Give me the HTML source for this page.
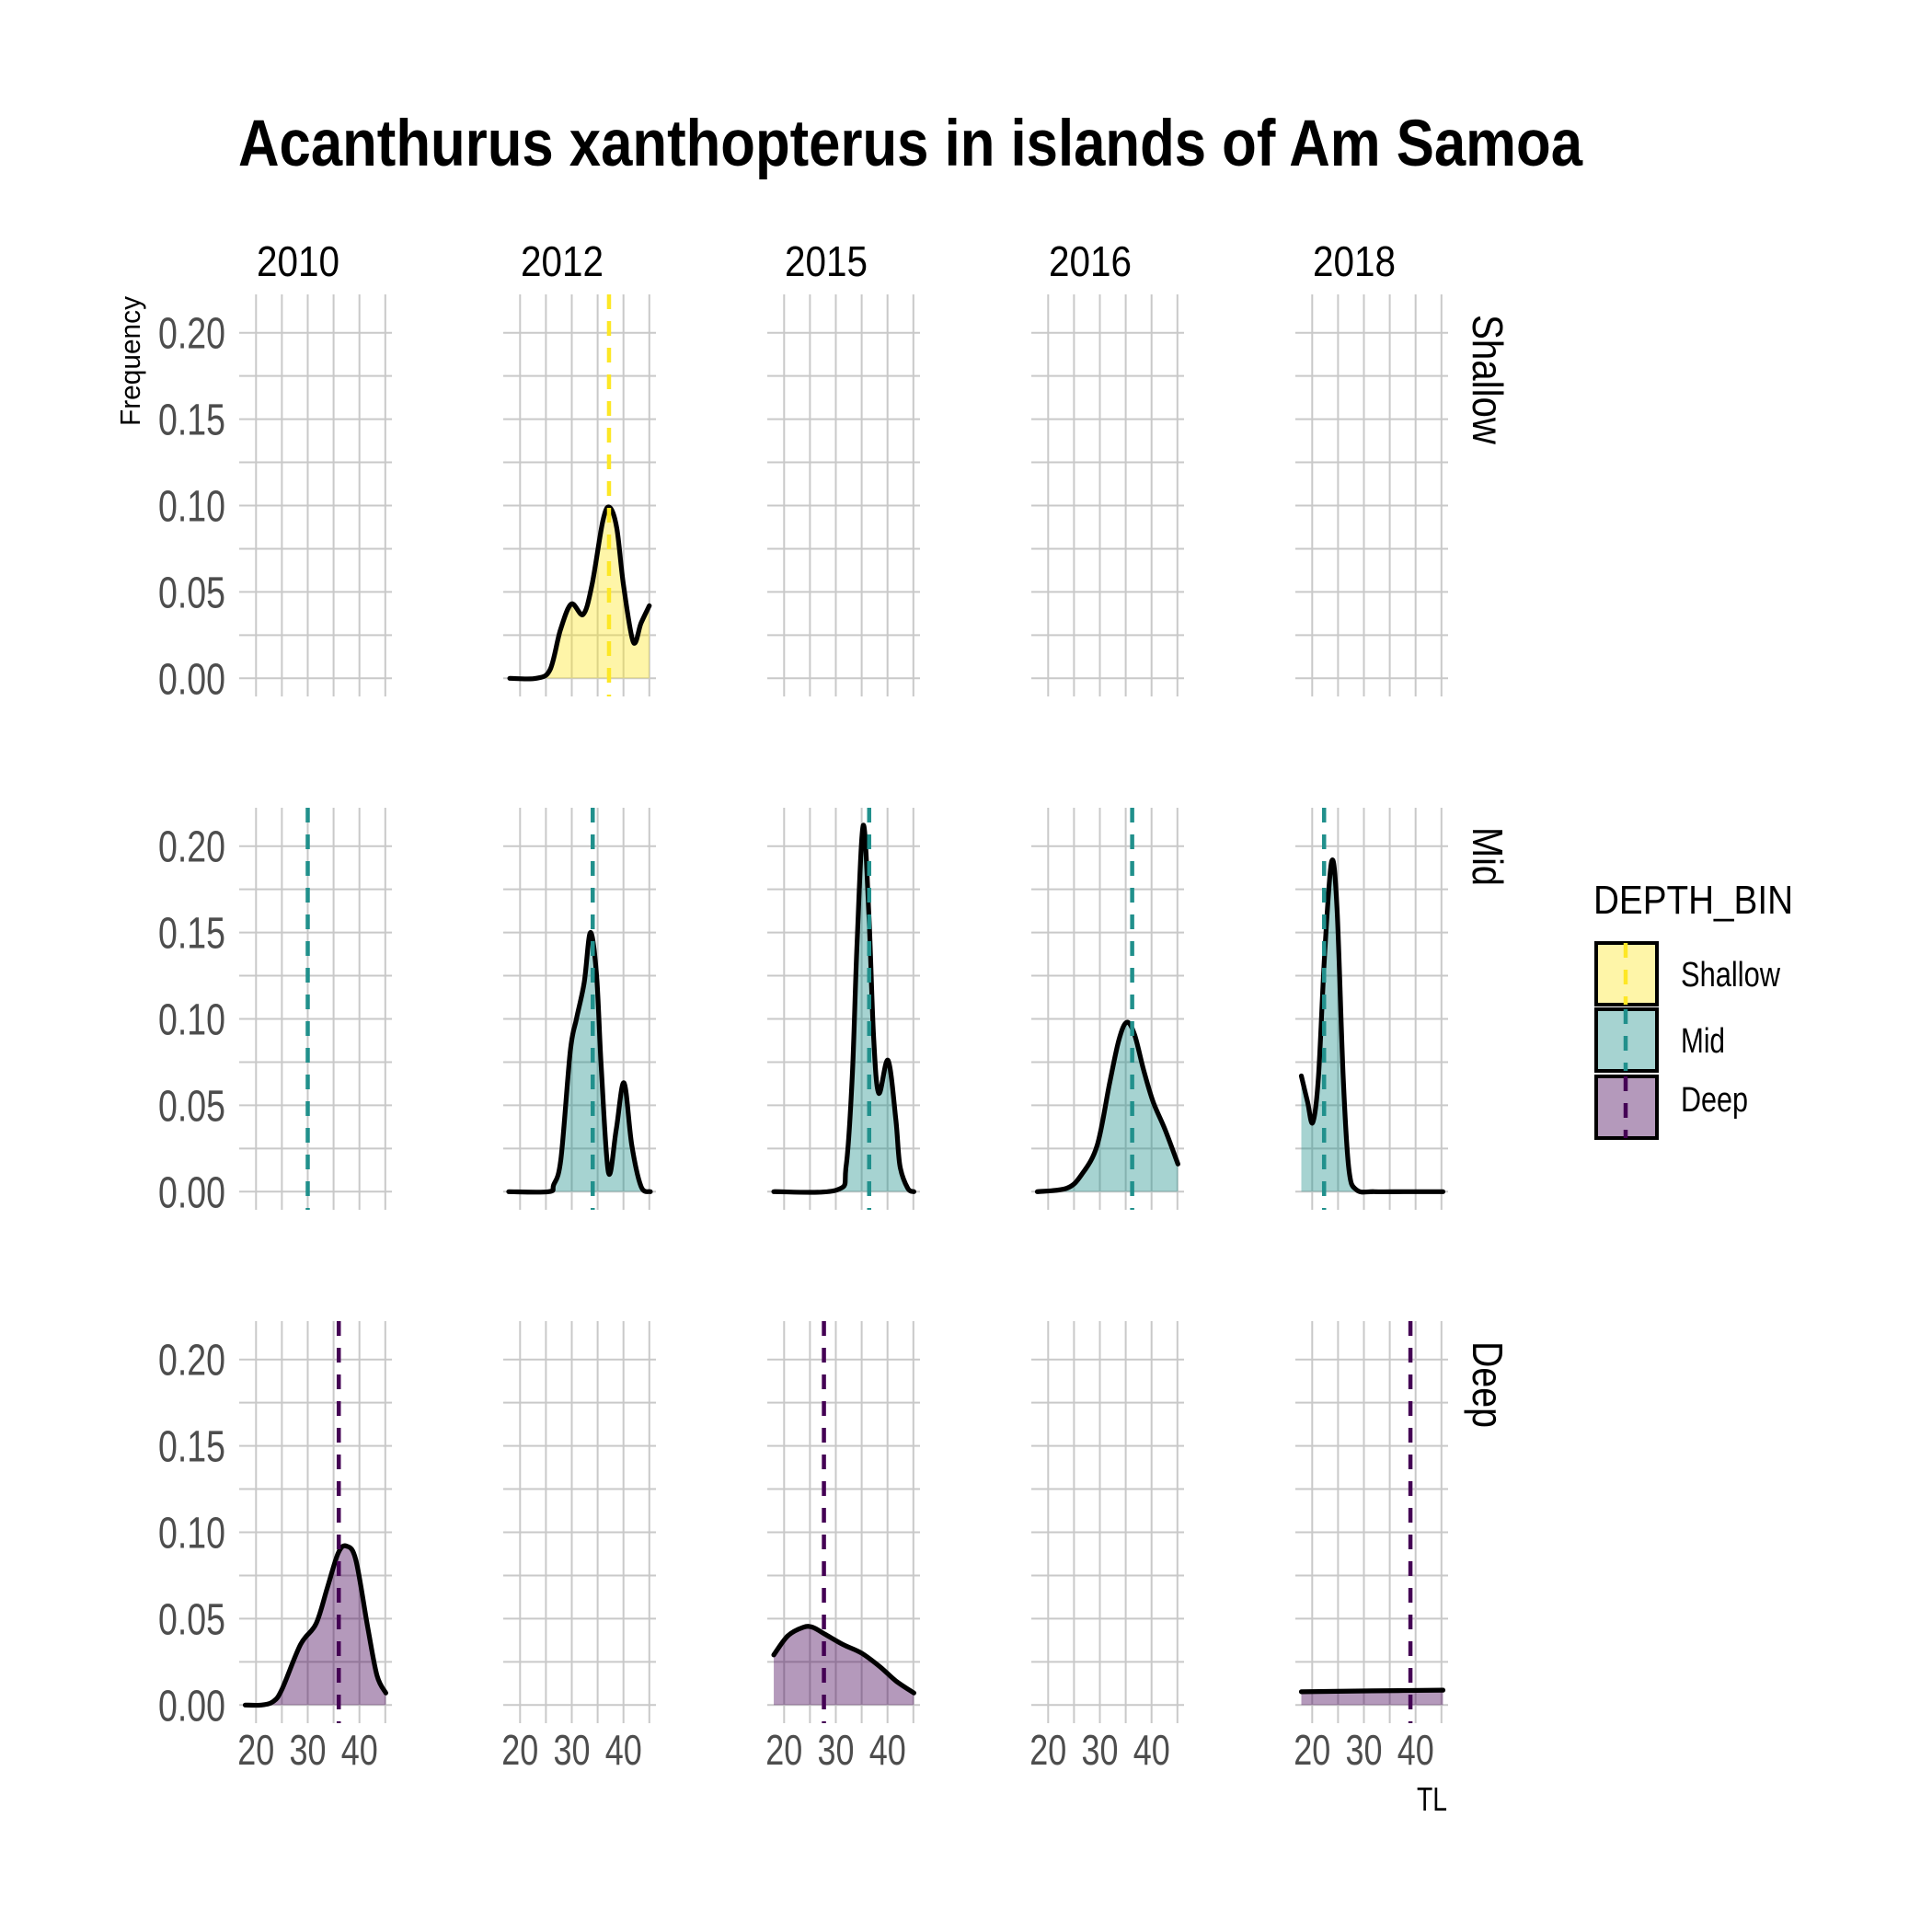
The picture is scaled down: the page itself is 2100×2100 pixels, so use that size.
<!DOCTYPE html>
<html><head><meta charset="utf-8"><style>
html,body{margin:0;padding:0;background:#fff;}
svg{display:block;font-family:"Liberation Sans",Arial,sans-serif;}
</style></head><body>
<svg id="chart" width="2100" height="2100" viewBox="0 0 2100 2100" xmlns="http://www.w3.org/2000/svg">
<rect width="2100" height="2100" fill="#fff"/>
<text x="259" y="180" font-size="71" font-weight="bold" textLength="1461" lengthAdjust="spacingAndGlyphs">Acanthurus xanthopterus in islands of Am Samoa</text>
<g id="panels"></g>
<text transform="translate(152,322) rotate(-90)" text-anchor="end" font-size="31" textLength="141" lengthAdjust="spacingAndGlyphs">Frequency</text>
<text x="1540" y="1968" font-size="36" textLength="33" lengthAdjust="spacingAndGlyphs">TL</text>
<g>
<text x="1732" y="993" font-size="44" textLength="217" lengthAdjust="spacingAndGlyphs">DEPTH_BIN</text>
<g>
<rect x="1735" y="1025" width="66" height="67" fill="#FDE725" fill-opacity="0.4" stroke="#000" stroke-width="4"/>
<line x1="1767" y1="1025" x2="1767" y2="1092" stroke="#FDE725" stroke-width="4.5" stroke-dasharray="16 13"/>
<text x="1827" y="1072" font-size="38" textLength="108" lengthAdjust="spacingAndGlyphs">Shallow</text></g>
<g>
<rect x="1735" y="1097" width="66" height="67" fill="#21908C" fill-opacity="0.4" stroke="#000" stroke-width="4"/>
<line x1="1767" y1="1097" x2="1767" y2="1164" stroke="#21908C" stroke-width="4.5" stroke-dasharray="16 13"/>
<text x="1827" y="1144" font-size="38" textLength="48" lengthAdjust="spacingAndGlyphs">Mid</text></g>
<g>
<rect x="1735" y="1170" width="66" height="67" fill="#440154" fill-opacity="0.4" stroke="#000" stroke-width="4"/>
<line x1="1767" y1="1170" x2="1767" y2="1237" stroke="#440154" stroke-width="4.5" stroke-dasharray="16 13"/>
<text x="1827" y="1208" font-size="38" textLength="73" lengthAdjust="spacingAndGlyphs">Deep</text></g>
</g>
</svg>
<script>
const years = ["2010","2012","2015","2016","2018"];
const depths = ["Shallow","Mid","Deep"];
const depthColors = ["#FDE725","#21908C","#440154"];
const yTicks = [0,0.05,0.10,0.15,0.20];
const yTickLabels = ["0.00","0.05","0.10","0.15","0.20"];
const yMinor = [0.025,0.075,0.125,0.175];
const xTicks = [20,30,40];
const xMinor = [25,35,45];

const tl_2012_shallow = [18,23.1,25.8,27.8,29.9,32.2,33.9,36.0,37.3,38.7,40.0,41.9,43.4,45.0];
const dens_2012_shallow = [0,0,0.005,0.028,0.043,0.037,0.054,0.091,0.099,0.087,0.054,0.021,0.032,0.042];
const tl_2012_mid = [17.8,25.5,26.5,27.9,29.7,30.9,32.4,33.6,34.8,35.7,37.1,38.6,40.1,41.6,43.4,45.2];
const dens_2012_mid = [0,0,0.004,0.019,0.081,0.100,0.121,0.150,0.125,0.072,0.011,0.036,0.063,0.027,0.003,0];
const tl_2015_mid = [18,30.2,32.0,33.2,34.1,35.3,36.4,37.3,38.3,40.1,41.6,42.4,43.9,45.1];
const dens_2015_mid = [0,0.001,0.015,0.068,0.143,0.212,0.160,0.090,0.057,0.076,0.042,0.015,0.002,0];
const tl_2016_mid = [17.9,23.6,26.5,29.5,31.9,33.7,35.2,36.7,38.5,40.3,42.6,45.1];
const dens_2016_mid = [0,0.002,0.010,0.027,0.063,0.088,0.098,0.091,0.070,0.052,0.036,0.016];
const tl_2018_mid = [17.9,19.1,20.1,21.2,22.4,23.75,24.8,26.0,27.1,28.6,32,38,45.3];
const dens_2018_mid = [0.067,0.052,0.040,0.066,0.137,0.191,0.164,0.066,0.013,0.001,0,0,0];
const tl_2010_deep = [17.9,21,23.3,25.0,28.6,31.6,33.8,35.9,37.5,39.3,41.6,43.4,45.1];
const dens_2010_deep = [0,0,0.002,0.009,0.035,0.047,0.068,0.088,0.092,0.084,0.045,0.017,0.007];
const tl_2015_deep = [18.0,20.7,23.7,25.5,27.9,31.4,35.0,38.6,41.6,45.1];
const dens_2015_deep = [0.029,0.040,0.045,0.045,0.041,0.035,0.030,0.022,0.014,0.007];
const tl_2018_deep = [17.9,31.6,45.3];
const dens_2018_deep = [0.0077,0.0082,0.0086];

const curves = [
  [0,1,tl_2012_shallow,dens_2012_shallow],
  [1,1,tl_2012_mid,dens_2012_mid],
  [1,2,tl_2015_mid,dens_2015_mid],
  [1,3,tl_2016_mid,dens_2016_mid],
  [1,4,tl_2018_mid,dens_2018_mid],
  [2,0,tl_2010_deep,dens_2010_deep],
  [2,2,tl_2015_deep,dens_2015_deep],
  [2,4,tl_2018_deep,dens_2018_deep]
];
const meanRows = [0,1,1,1,1,1,2,2,2];
const meanCols = [1,0,1,2,3,4,0,2,4];
const meanValues = [37.2,30.0,34.05,36.45,36.25,22.3,36.0,27.7,39.0];

const NS="http://www.w3.org/2000/svg";
function xs(c,v){return 278.3+c*287+(v-20)*5.62;}
function ys(r,v){return 737.3+r*558-v*1878;}
const PL=260,PR=426,PT=320,PB=757;
function mk(tag,attrs,parent){const e=document.createElementNS(NS,tag);for(const k in attrs)e.setAttribute(k,attrs[k]);parent.appendChild(e);return e;}
const root=document.getElementById('panels');

for(let r=0;r<3;r++){for(let c=0;c<5;c++){
  const g=mk('g',{},root);
  
  
  const x0=PL+c*287,x1=PR+c*287,y0=PT+r*558,y1=PB+r*558;
  yTicks.concat(yMinor).forEach(v=>{
    const l=mk('line',{x1:x0,x2:x1,y1:ys(r,v),y2:ys(r,v),stroke:'#c9c9c9','stroke-width':2},g);
    
    
  });
  xTicks.concat(xMinor).forEach(v=>{
    const l=mk('line',{x1:xs(c,v),x2:xs(c,v),y1:y0,y2:y1,stroke:'#c9c9c9','stroke-width':2},g);
    
    
  });
  if(c===0){yTicks.forEach((v,i)=>{
    const t=mk('text',{x:245,y:ys(r,v)+17,'text-anchor':'end','font-size':48,fill:'#4d4d4d',textLength:73,lengthAdjust:'spacingAndGlyphs'},g);
    t.textContent=yTickLabels[i];
    
    
  });}
  if(r===2){xTicks.forEach(v=>{
    const t=mk('text',{x:xs(c,v),y:1918,'text-anchor':'middle','font-size':46,fill:'#4d4d4d',textLength:40,lengthAdjust:'spacingAndGlyphs'},g);
    t.textContent=String(v);
    
    
  });}
  if(r===0){
    const t=mk('text',{x:279+c*287,y:300,'font-size':46,textLength:90,lengthAdjust:'spacingAndGlyphs'},g);
    t.textContent=years[c];
    
    
  }
  if(c===4){
    const lens=[141,64,94];
    const t=mk('text',{transform:'translate(1601,'+(342+r*558+(r===1?-1:0))+') rotate(90)','font-size':46,textLength:lens[r],lengthAdjust:'spacingAndGlyphs'},g);
    t.textContent=depths[r];
    
    
  }
}}

function pathFrom(pts){
  let d='M'+pts[0][0].toFixed(2)+','+pts[0][1].toFixed(2);
  for(let i=0;i<pts.length-1;i++){
    const p0=pts[Math.max(0,i-1)],p1=pts[i],p2=pts[i+1],p3=pts[Math.min(pts.length-1,i+2)];
    const c1x=p1[0]+(p2[0]-p0[0])/6,c1y=p1[1]+(p2[1]-p0[1])/6;
    const c2x=p2[0]-(p3[0]-p1[0])/6,c2y=p2[1]-(p3[1]-p1[1])/6;
    d+=' C'+c1x.toFixed(2)+','+c1y.toFixed(2)+' '+c2x.toFixed(2)+','+c2y.toFixed(2)+' '+p2[0].toFixed(2)+','+p2[1].toFixed(2);
  }
  return d;
}
curves.forEach(cv=>{
  const r=cv[0],c=cv[1],tl=cv[2],dn=cv[3];
  const pts=tl.map((v,i)=>[xs(c,v),ys(r,dn[i])]);
  const line=pathFrom(pts);
  const area=line+' L'+pts[pts.length-1][0].toFixed(2)+','+ys(r,0)+' L'+pts[0][0].toFixed(2)+','+ys(r,0)+' Z';
  const a=mk('path',{d:area,fill:depthColors[r],'fill-opacity':0.4,stroke:'none'},root);
  
  
  const l=mk('path',{d:line,fill:'none',stroke:'#000','stroke-width':5.2,'stroke-linejoin':'round','stroke-linecap':'round'},root);
  
  
});
meanValues.forEach((v,i)=>{
  const r=meanRows[i],c=meanCols[i];
  const l=mk('line',{x1:xs(c,v),x2:xs(c,v),y1:PT+r*558,y2:PB+r*558,stroke:depthColors[r],'stroke-width':4.5,'stroke-dasharray':'16 13'},root);
  
  
});
</script>
</body></html>
